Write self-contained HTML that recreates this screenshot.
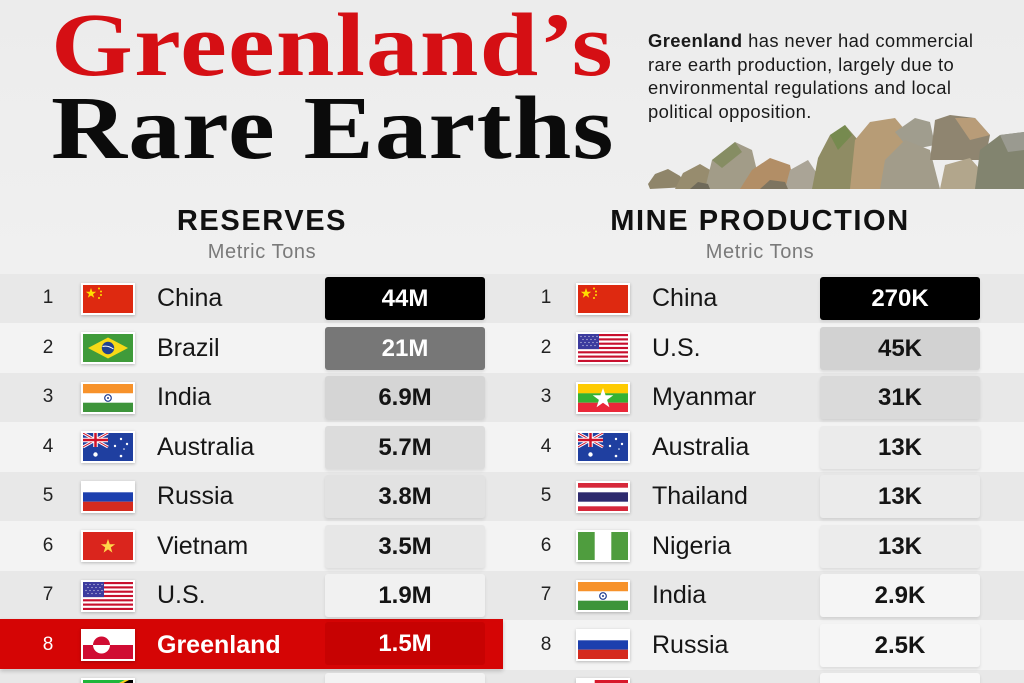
<!DOCTYPE html>
<html><head><meta charset="utf-8">
<style>
*{margin:0;padding:0;box-sizing:border-box}
html,body{width:1024px;height:683px;overflow:hidden}
body{background:#eeeeee;font-family:"Liberation Sans",sans-serif;color:#111}
#wrap{position:relative;width:1024px;height:683px;overflow:hidden;background:linear-gradient(180deg,#ececec 0%,#f0f0f0 40%,#eeeeee 100%)}
.abs{position:absolute}
.t1,.t2{position:absolute;left:51px;font-family:"Liberation Serif",serif;font-weight:bold;font-size:90px;line-height:90px;letter-spacing:1px;white-space:nowrap;transform:scaleX(1.17);transform-origin:0 0}
.t1{top:1px;color:#d50f14}
.t2{top:84px;color:#0b0b0b}
.desc{position:absolute;left:648px;top:29px;font-size:18.4px;line-height:23.7px;letter-spacing:0.4px;color:#1a1a1a;white-space:nowrap}
.hd{position:absolute;width:400px;text-align:center;font-weight:bold;font-size:29px;line-height:29px;letter-spacing:1.6px;color:#111;top:207px}
.sub{position:absolute;width:300px;text-align:center;font-size:20px;line-height:20px;letter-spacing:0.6px;color:#7a7a7a;top:242px}
.band{position:absolute;left:0;width:1024px;height:49.5px}
.odd{background:#e8e8e8}
.even{background:#f3f3f3}
.rk{position:absolute;width:30px;text-align:center;font-size:19px;line-height:20px;color:#222}
.fl{position:absolute;width:54px;height:32px;background:#fff;padding:2px;box-shadow:0 1px 3px rgba(0,0,0,0.25)}
.fl svg{display:block;width:50px;height:28px}
.nm{position:absolute;font-size:25px;line-height:26px;color:#161616;white-space:nowrap}
.bx{position:absolute;width:160px;height:43px;border-radius:3px;text-align:center;font-weight:bold;font-size:24px;line-height:43px;color:#141414;box-shadow:0 2px 3px rgba(0,0,0,0.10)}
</style></head><body><div id="wrap">

<div class="t1">Greenland’s</div>
<div class="t2">Rare Earths</div>

<div class="desc"><b>Greenland</b> has never had commercial<br>rare earth production, largely due to<br>environmental regulations and local<br>political opposition.</div>

<svg class="abs" style="left:640px;top:100px" width="384" height="100" viewBox="640 100 384 100">
<g>
<polygon points="648,184 655,174 668,169 680,176 688,187 650,189" fill="#8f856a"/>
<polygon points="675,189 683,173 700,164 712,171 716,189" fill="#978c6e"/>
<polygon points="705,189 712,160 735,142 752,150 758,175 745,189" fill="#a29c88"/>
<polygon points="712,160 735,142 742,152 722,168" fill="#7f8a5a" opacity="0.8"/>
<polygon points="740,189 752,170 770,158 790,165 795,189" fill="#b28e66"/>
<polygon points="785,189 790,170 808,160 818,175 815,189" fill="#aaa496"/>
<polygon points="812,189 818,158 830,135 845,125 858,140 862,189" fill="#8f8c64"/>
<polygon points="830,135 845,125 852,135 838,150" fill="#6f8a4a" opacity="0.8"/>
<polygon points="850,189 855,140 870,122 895,118 905,130 900,189" fill="#b79c76"/>
<polygon points="895,132 915,118 930,122 935,145 910,150" fill="#a09d8e"/>
<polygon points="880,189 885,160 905,140 930,150 940,189" fill="#a29c8a"/>
<polygon points="930,160 935,120 950,115 975,118 990,135 985,160" fill="#8f8570"/>
<polygon points="955,118 975,118 990,135 970,140" fill="#b89c78"/>
<polygon points="940,189 945,165 970,158 985,175 980,189" fill="#b2a68c"/>
<polygon points="975,189 980,150 1000,135 1024,132 1024,189" fill="#82846f"/>
<polygon points="1000,135 1024,132 1024,150 1008,152" fill="#9a9a90"/>
<polygon points="760,189 770,180 785,182 788,189" fill="#7d7460"/>
<polygon points="690,189 698,182 708,184 710,189" fill="#6f6a5a"/>
</g>
</svg>

<div class="hd" style="left:62px">RESERVES</div>
<div class="sub" style="left:112px">Metric Tons</div>
<div class="hd" style="left:560px">MINE PRODUCTION</div>
<div class="sub" style="left:610px">Metric Tons</div>

<div class="band odd" style="top:273.5px"></div>
<div class="band even" style="top:323px"></div>
<div class="band odd" style="top:372.5px"></div>
<div class="band even" style="top:422px"></div>
<div class="band odd" style="top:471.5px"></div>
<div class="band even" style="top:521px"></div>
<div class="band odd" style="top:570.5px"></div>
<div class="band even" style="top:620px"></div>
<div class="band odd" style="top:669.5px;height:14px"></div>

<div class="abs" style="left:0;top:619px;width:503px;height:50px;background:#d50505;box-shadow:0 2px 4px rgba(0,0,0,0.2)"></div>

<!-- LEFT TABLE -->
<div class="rk" style="left:33px;top:288px">1</div>
<div class="fl" style="left:81px;top:283px"><svg viewBox="0 0 50 28"><rect width="50" height="28" fill="#de2910"/><polygon points="8,3 9.3,6.8 13.2,6.8 10,9.1 11.2,12.8 8,10.5 4.8,12.8 6,9.1 2.8,6.8 6.7,6.8" fill="#ffde00"/><circle cx="16" cy="3.5" r="1" fill="#ffde00"/><circle cx="18" cy="6.5" r="1" fill="#ffde00"/><circle cx="18" cy="10" r="1" fill="#ffde00"/><circle cx="16" cy="13" r="1" fill="#ffde00"/></svg></div>
<div class="nm" style="left:157px;top:285px">China</div>
<div class="bx" style="left:325px;top:277px;background:#000;color:#fff">44M</div>

<div class="rk" style="left:33px;top:338px">2</div>
<div class="fl" style="left:81px;top:332px"><svg viewBox="0 0 50 28"><rect width="50" height="28" fill="#3f9b3a"/><polygon points="5,14 25,3.5 45,14 25,24.5" fill="#f7d917"/><circle cx="25" cy="14" r="6.2" fill="#20408f"/><path d="M19.5,12.5 Q25,11 30.5,15" stroke="#fff" stroke-width="1" fill="none"/></svg></div>
<div class="nm" style="left:157px;top:335px">Brazil</div>
<div class="bx" style="left:325px;top:326.5px;background:#777;color:#fff">21M</div>

<div class="rk" style="left:33px;top:387px">3</div>
<div class="fl" style="left:81px;top:381.5px"><svg viewBox="0 0 50 28"><rect width="50" height="9.4" fill="#f7922a"/><rect y="9.3" width="50" height="9.4" fill="#fff"/><rect y="18.7" width="50" height="9.3" fill="#3d943a"/><circle cx="25" cy="14" r="3.3" fill="none" stroke="#1f3b8f" stroke-width="1.2"/><circle cx="25" cy="14" r="1" fill="#1f3b8f"/></svg></div>
<div class="nm" style="left:157px;top:384px">India</div>
<div class="bx" style="left:325px;top:376px;background:#d5d5d5">6.9M</div>

<div class="rk" style="left:33px;top:437px">4</div>
<div class="fl" style="left:81px;top:431px"><svg viewBox="0 0 50 28"><rect width="50" height="28" fill="#1f3fa0"/><g><path d="M0,0 L25,14 M25,0 L0,14" stroke="#fff" stroke-width="3"/><path d="M0,0 L25,14 M25,0 L0,14" stroke="#d0122a" stroke-width="1"/><path d="M12.5,0 V14 M0,7 H25" stroke="#fff" stroke-width="4.5"/><path d="M12.5,0 V14 M0,7 H25" stroke="#d0122a" stroke-width="2.5"/></g><circle cx="12.5" cy="21.5" r="2.2" fill="#fff"/><circle cx="38" cy="6" r="1.2" fill="#fff"/><circle cx="32" cy="13" r="1.2" fill="#fff"/><circle cx="44" cy="11" r="1.2" fill="#fff"/><circle cx="38" cy="23" r="1.3" fill="#fff"/><circle cx="41" cy="16" r="0.8" fill="#fff"/></svg></div>
<div class="nm" style="left:157px;top:434px">Australia</div>
<div class="bx" style="left:325px;top:425.5px;background:#dcdcdc">5.7M</div>

<div class="rk" style="left:33px;top:486px">5</div>
<div class="fl" style="left:81px;top:480.5px"><svg viewBox="0 0 50 28"><rect width="50" height="9.4" fill="#fff"/><rect y="9.3" width="50" height="9.4" fill="#1c3fae"/><rect y="18.7" width="50" height="9.3" fill="#d52b1e"/></svg></div>
<div class="nm" style="left:157px;top:483px">Russia</div>
<div class="bx" style="left:325px;top:475px;background:#e2e2e2">3.8M</div>

<div class="rk" style="left:33px;top:536px">6</div>
<div class="fl" style="left:81px;top:530px"><svg viewBox="0 0 50 28"><rect width="50" height="28" fill="#da251d"/><polygon points="25,7 26.8,12.2 32.2,12.2 27.8,15.4 29.4,20.6 25,17.4 20.6,20.6 22.2,15.4 17.8,12.2 23.2,12.2" fill="#ffd84a"/></svg></div>
<div class="nm" style="left:157px;top:533px">Vietnam</div>
<div class="bx" style="left:325px;top:524.5px;background:#e7e7e7">3.5M</div>

<div class="rk" style="left:33px;top:585px">7</div>
<div class="fl" style="left:81px;top:579.5px"><svg viewBox="0 0 50 28"><rect width="50" height="28" fill="#fff"/><g fill="#c8102e"><rect y="0" width="50" height="2.15"/><rect y="4.31" width="50" height="2.15"/><rect y="8.62" width="50" height="2.15"/><rect y="12.92" width="50" height="2.15"/><rect y="17.23" width="50" height="2.15"/><rect y="21.54" width="50" height="2.15"/><rect y="25.85" width="50" height="2.15"/></g><rect width="21" height="15.1" fill="#3c3b9e"/><g fill="#fff" opacity="0.8"><circle cx="3" cy="2.5" r="0.6"/><circle cx="7" cy="2.5" r="0.6"/><circle cx="11" cy="2.5" r="0.6"/><circle cx="15" cy="2.5" r="0.6"/><circle cx="19" cy="2.5" r="0.6"/><circle cx="5" cy="5.5" r="0.6"/><circle cx="9" cy="5.5" r="0.6"/><circle cx="13" cy="5.5" r="0.6"/><circle cx="17" cy="5.5" r="0.6"/><circle cx="3" cy="8.5" r="0.6"/><circle cx="7" cy="8.5" r="0.6"/><circle cx="11" cy="8.5" r="0.6"/><circle cx="15" cy="8.5" r="0.6"/><circle cx="19" cy="8.5" r="0.6"/><circle cx="5" cy="11.5" r="0.6"/><circle cx="9" cy="11.5" r="0.6"/><circle cx="13" cy="11.5" r="0.6"/><circle cx="17" cy="11.5" r="0.6"/></g></svg></div>
<div class="nm" style="left:157px;top:582px">U.S.</div>
<div class="bx" style="left:325px;top:574px;background:#f1f1f1">1.9M</div>

<div class="rk" style="left:33px;top:635px;color:#fff">8</div>
<div class="fl" style="left:81px;top:629px"><svg viewBox="0 0 50 28"><rect width="50" height="14" fill="#fff"/><rect y="14" width="50" height="14" fill="#d00c33"/><path d="M10,14 A8.5,8.5 0 0 1 27,14 Z" fill="#d00c33"/><path d="M10,14 A8.5,8.5 0 0 0 27,14 Z" fill="#fff"/></svg></div>
<div class="nm" style="left:157px;top:632px;color:#fff;font-weight:bold">Greenland</div>
<div class="bx" style="left:325px;top:622px;background:#c70202;color:#fff;box-shadow:none">1.5M</div>

<div class="fl" style="left:81px;top:678px"><svg viewBox="0 0 50 28"><polygon points="0,0 42,0 0,22" fill="#1eb53a"/><polygon points="50,6 50,28 8,28" fill="#00a3dd"/><polygon points="42,0 50,0 50,6 8,28 0,28 0,22" fill="#fcd116"/><polygon points="46,0 50,0 50,3 4,28 0,28 0,25" fill="#000"/></svg></div>
<div class="bx" style="left:325px;top:673px;background:#f3f3f3"></div>

<!-- RIGHT TABLE -->
<div class="rk" style="left:531px;top:288px">1</div>
<div class="fl" style="left:576px;top:283px"><svg viewBox="0 0 50 28"><rect width="50" height="28" fill="#de2910"/><polygon points="8,3 9.3,6.8 13.2,6.8 10,9.1 11.2,12.8 8,10.5 4.8,12.8 6,9.1 2.8,6.8 6.7,6.8" fill="#ffde00"/><circle cx="16" cy="3.5" r="1" fill="#ffde00"/><circle cx="18" cy="6.5" r="1" fill="#ffde00"/><circle cx="18" cy="10" r="1" fill="#ffde00"/><circle cx="16" cy="13" r="1" fill="#ffde00"/></svg></div>
<div class="nm" style="left:652px;top:285px">China</div>
<div class="bx" style="left:820px;top:277px;background:#000;color:#fff">270K</div>

<div class="rk" style="left:531px;top:338px">2</div>
<div class="fl" style="left:576px;top:332px"><svg viewBox="0 0 50 28"><rect width="50" height="28" fill="#fff"/><g fill="#c8102e"><rect y="0" width="50" height="2.15"/><rect y="4.31" width="50" height="2.15"/><rect y="8.62" width="50" height="2.15"/><rect y="12.92" width="50" height="2.15"/><rect y="17.23" width="50" height="2.15"/><rect y="21.54" width="50" height="2.15"/><rect y="25.85" width="50" height="2.15"/></g><rect width="21" height="15.1" fill="#3c3b9e"/><g fill="#fff" opacity="0.8"><circle cx="3" cy="2.5" r="0.6"/><circle cx="7" cy="2.5" r="0.6"/><circle cx="11" cy="2.5" r="0.6"/><circle cx="15" cy="2.5" r="0.6"/><circle cx="19" cy="2.5" r="0.6"/><circle cx="5" cy="5.5" r="0.6"/><circle cx="9" cy="5.5" r="0.6"/><circle cx="13" cy="5.5" r="0.6"/><circle cx="17" cy="5.5" r="0.6"/><circle cx="3" cy="8.5" r="0.6"/><circle cx="7" cy="8.5" r="0.6"/><circle cx="11" cy="8.5" r="0.6"/><circle cx="15" cy="8.5" r="0.6"/><circle cx="19" cy="8.5" r="0.6"/><circle cx="5" cy="11.5" r="0.6"/><circle cx="9" cy="11.5" r="0.6"/><circle cx="13" cy="11.5" r="0.6"/><circle cx="17" cy="11.5" r="0.6"/></g></svg></div>
<div class="nm" style="left:652px;top:335px">U.S.</div>
<div class="bx" style="left:820px;top:326.5px;background:#d2d2d2">45K</div>

<div class="rk" style="left:531px;top:387px">3</div>
<div class="fl" style="left:576px;top:381.5px"><svg viewBox="0 0 50 28"><rect width="50" height="9.4" fill="#fecb00"/><rect y="9.3" width="50" height="9.4" fill="#34b233"/><rect y="18.7" width="50" height="9.3" fill="#ea2839"/><polygon points="25,4 27.6,11.3 35.3,11.3 29.1,15.9 31.4,23.2 25,18.8 18.6,23.2 20.9,15.9 14.7,11.3 22.4,11.3" fill="#fff"/></svg></div>
<div class="nm" style="left:652px;top:384px">Myanmar</div>
<div class="bx" style="left:820px;top:376px;background:#dadada">31K</div>

<div class="rk" style="left:531px;top:437px">4</div>
<div class="fl" style="left:576px;top:431px"><svg viewBox="0 0 50 28"><rect width="50" height="28" fill="#1f3fa0"/><g><path d="M0,0 L25,14 M25,0 L0,14" stroke="#fff" stroke-width="3"/><path d="M0,0 L25,14 M25,0 L0,14" stroke="#d0122a" stroke-width="1"/><path d="M12.5,0 V14 M0,7 H25" stroke="#fff" stroke-width="4.5"/><path d="M12.5,0 V14 M0,7 H25" stroke="#d0122a" stroke-width="2.5"/></g><circle cx="12.5" cy="21.5" r="2.2" fill="#fff"/><circle cx="38" cy="6" r="1.2" fill="#fff"/><circle cx="32" cy="13" r="1.2" fill="#fff"/><circle cx="44" cy="11" r="1.2" fill="#fff"/><circle cx="38" cy="23" r="1.3" fill="#fff"/><circle cx="41" cy="16" r="0.8" fill="#fff"/></svg></div>
<div class="nm" style="left:652px;top:434px">Australia</div>
<div class="bx" style="left:820px;top:425.5px;background:#ebebeb">13K</div>

<div class="rk" style="left:531px;top:486px">5</div>
<div class="fl" style="left:576px;top:480.5px"><svg viewBox="0 0 50 28"><rect width="50" height="28" fill="#fff"/><rect width="50" height="4.7" fill="#d6283a"/><rect y="23.3" width="50" height="4.7" fill="#d6283a"/><rect y="9.3" width="50" height="9.4" fill="#2d2a6e"/></svg></div>
<div class="nm" style="left:652px;top:483px">Thailand</div>
<div class="bx" style="left:820px;top:475px;background:#ebebeb">13K</div>

<div class="rk" style="left:531px;top:536px">6</div>
<div class="fl" style="left:576px;top:530px"><svg viewBox="0 0 50 28"><rect width="50" height="28" fill="#fff"/><rect width="16.7" height="28" fill="#4f9d3e"/><rect x="33.3" width="16.7" height="28" fill="#4f9d3e"/></svg></div>
<div class="nm" style="left:652px;top:533px">Nigeria</div>
<div class="bx" style="left:820px;top:524.5px;background:#ececec">13K</div>

<div class="rk" style="left:531px;top:585px">7</div>
<div class="fl" style="left:576px;top:579.5px"><svg viewBox="0 0 50 28"><rect width="50" height="9.4" fill="#f7922a"/><rect y="9.3" width="50" height="9.4" fill="#fff"/><rect y="18.7" width="50" height="9.3" fill="#3d943a"/><circle cx="25" cy="14" r="3.3" fill="none" stroke="#1f3b8f" stroke-width="1.2"/><circle cx="25" cy="14" r="1" fill="#1f3b8f"/></svg></div>
<div class="nm" style="left:652px;top:582px">India</div>
<div class="bx" style="left:820px;top:574px;background:#f5f5f5">2.9K</div>

<div class="rk" style="left:531px;top:635px">8</div>
<div class="fl" style="left:576px;top:629px"><svg viewBox="0 0 50 28"><rect width="50" height="9.4" fill="#fff"/><rect y="9.3" width="50" height="9.4" fill="#1c3fae"/><rect y="18.7" width="50" height="9.3" fill="#d52b1e"/></svg></div>
<div class="nm" style="left:652px;top:632px">Russia</div>
<div class="bx" style="left:820px;top:623.5px;background:#f6f6f6">2.5K</div>

<div class="fl" style="left:576px;top:678px"><svg viewBox="0 0 50 28"><rect width="50" height="14" fill="#d8182b"/><rect y="14" width="50" height="14" fill="#2e8b3a"/><rect width="16.7" height="28" fill="#fff"/></svg></div>
<div class="bx" style="left:820px;top:673px;background:#f7f7f7"></div>

</div></body></html>
